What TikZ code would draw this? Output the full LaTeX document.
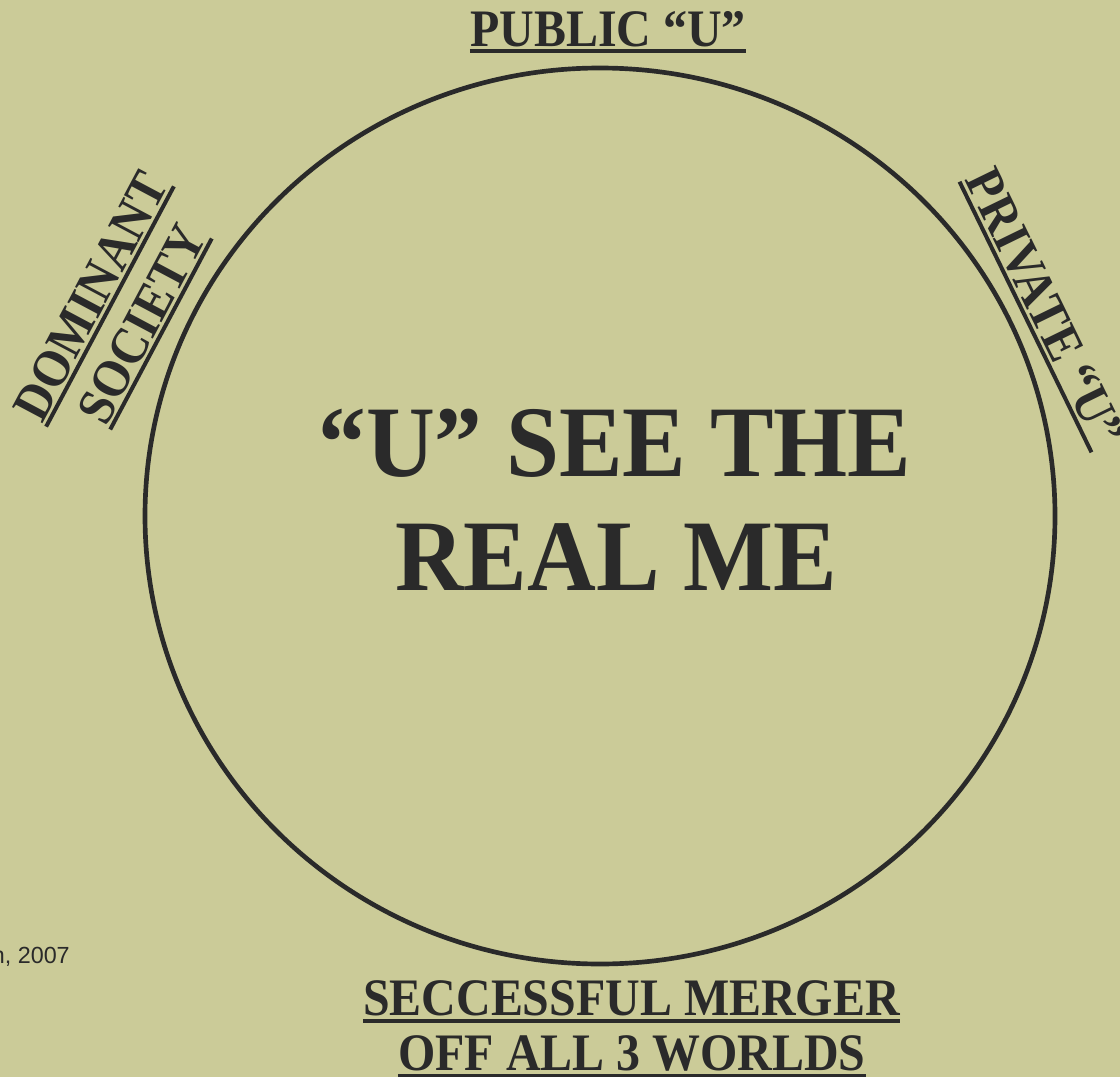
\documentclass[tikz,border=0pt]{standalone}
\usepackage{fontspec}
\setmainfont{Liberation Serif}
\newfontfamily\labelfont[FakeStretch=0.91]{Liberation Serif}
\newfontfamily\bigfont[FakeStretch=0.94]{Liberation Serif}
\newfontfamily\notefont{Liberation Sans}
\definecolor{paper}{RGB}{203,203,152}
\definecolor{ink}{RGB}{42,42,42}

\begin{document}
\begin{tikzpicture}
  [x=0.75pt,y=-0.75pt,every node/.style={text=ink},
   title/.style={font=\labelfont\fontsize{39.5}{44}\selectfont\bfseries,inner xsep=0pt,inner ysep=3pt,anchor=south},
   big/.style={font=\bigfont\fontsize{76}{86}\selectfont\bfseries,inner sep=0pt,anchor=base},
   uline/.style={draw=ink,line width=3pt}]
  \useasboundingbox (0,0) rectangle (1120,1077);
  \fill[paper] (0,0) rectangle (1120,1077);
  \draw[ink,line width=3.5pt] (600,516) ellipse [x radius=341.25pt,y radius=336pt];

  \node[title] (public) at (608,51) {PUBLIC “U”};
  \node[title,rotate=62] (dominant) at (110,306.5) {DOMINANT};
  \node[title,rotate=62] (society) at (161,334) {SOCIETY};
  \node[title,rotate=-64] (private) at (1025.5,317) {PRIVATE “U”};
  \node[title] (merger) at (631.5,1020.5) {SECCESSFUL MERGER};
  \node[title] (worlds) at (632,1076) {OFF ALL 3 WORLDS};

  \node[big] (see) at (615,476) {“U” SEE THE};
  \node[big] (me) at (616,590) {REAL ME};
  \node[anchor=base east,inner sep=0pt,font=\notefont\fontsize{17.5}{21}\selectfont] (year) at (70,963) {n, 2007};

  \foreach \lbl in {public,dominant,society,private,merger,worlds}
    \draw[uline] (\lbl.south west) -- (\lbl.south east);
\end{tikzpicture}
\end{document}
